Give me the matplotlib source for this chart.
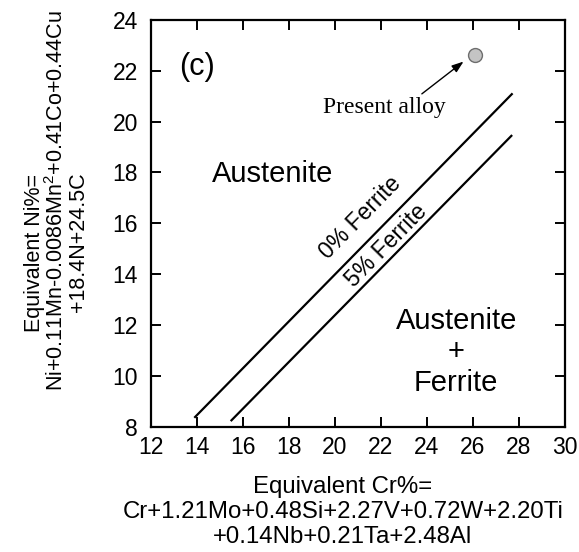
import matplotlib.pyplot as plt
import numpy as np

plt.rcParams["font.family"] = ["Liberation Sans", "DejaVu Sans"]
plt.rcParams["mathtext.fontset"] = "custom"
plt.rcParams["mathtext.rm"] = "Liberation Sans"

# Schaeffler-type boundary lines (Cr_eq, Ni_eq)
ferrite0_cr = [13.9, 27.72]
ferrite0_ni = [8.35, 21.11]
ferrite5_cr = [15.48, 27.70]
ferrite5_ni = [8.22, 19.47]

alloy_cr = 26.07
alloy_ni = 22.6

x_ticks = [12, 14, 16, 18, 20, 22, 24, 26, 28, 30]
y_ticks = [8, 10, 12, 14, 16, 18, 20, 22, 24]

ni_label_lines = ["Equivalent Ni%=", "Ni+0.11Mn-0.0086Mn$^2$+0.41Co+0.44Cu", "+18.4N+24.5C"]

fig = plt.figure(figsize=(5.79, 5.52), dpi=100)
ax = fig.add_axes([0.260, 0.227, 0.716, 0.737])

ax.plot(ferrite0_cr, ferrite0_ni, color="black", lw=1.6, solid_capstyle="butt")
ax.plot(ferrite5_cr, ferrite5_ni, color="black", lw=1.6, solid_capstyle="butt")
ax.plot(alloy_cr, alloy_ni, "o", ms=10, mfc="#c4c4c4", mec="#6e6e6e", mew=1.0)

ax.annotate(
    "",
    xy=(25.59, 22.36),
    xytext=(23.78, 21.09),
    arrowprops=dict(arrowstyle="-|>,head_length=0.7,head_width=0.25", color="black", lw=1.0, shrinkA=0, shrinkB=0),
)
ax.text(22.14, 20.54, "Present alloy", family=["Liberation Serif", "DejaVu Serif"],
        fontsize=17, ha="center", va="center")

ax.text(14.0, 22.15, "(c)", fontsize=22, ha="center", va="center")
ax.text(17.3, 17.94, "Austenite", fontsize=21, ha="center", va="center")
ax.text(25.27, 10.93, "Austenite\n+\nFerrite", fontsize=21, ha="center", va="center",
        linespacing=1.15)

ax.set_xlim(12, 30)
ax.set_ylim(8, 24)
fig.canvas.draw()
p0 = ax.transData.transform((ferrite0_cr[0], ferrite0_ni[0]))
p1 = ax.transData.transform((ferrite0_cr[1], ferrite0_ni[1]))
angle = np.degrees(np.arctan2(p1[1] - p0[1], p1[0] - p0[0]))
ax.text(21.1, 16.22, "0% Ferrite", fontsize=16.5, rotation=angle, ha="center", va="center",
        rotation_mode="anchor")
ax.text(22.25, 15.12, "5% Ferrite", fontsize=16.5, rotation=angle, ha="center", va="center",
        rotation_mode="anchor")

ax.set_xticks(x_ticks)
ax.set_yticks(y_ticks)
ax.tick_params(direction="in", length=7, width=1.4, labelsize=16.5,
               top=True, right=True)
ax.tick_params(axis="x", pad=7)
ax.tick_params(axis="y", pad=9)
for spine in ax.spines.values():
    spine.set_linewidth(1.6)

ax.set_xlabel("Equivalent Cr%=\nCr+1.21Mo+0.48Si+2.27V+0.72W+2.20Ti\n+0.14Nb+0.21Ta+2.48Al",
              fontsize=17.3, linespacing=1.17)
ax.xaxis.set_label_coords(0.464, -0.121)

# y label: three separately placed rotated lines, as in the original figure
for text, x, y in zip(ni_label_lines, [0.060, 0.098, 0.135], [0.542, 0.636, 0.562]):
    fig.text(x, y, text, fontsize=15.5, rotation=90, ha="center", va="center")

fig.savefig("out.png", dpi=100)
